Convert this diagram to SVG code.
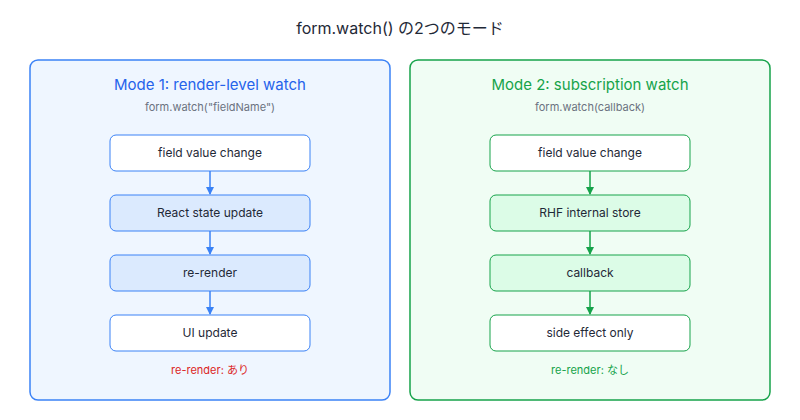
<svg xmlns="http://www.w3.org/2000/svg" width="800" height="420" viewBox="0 0 800 420">
<style>
text{font-family:Inter,"Noto Sans","Noto Sans CJK JP",sans-serif;text-anchor:middle}
.t{font-size:16px;fill:#1f2937}
.h{font-size:15px}
.s{font-size:11px;fill:#6b7280}
.n{font-size:12px;fill:#1f2937}
.f{font-size:11px}
.bb{stroke:#3b82f6;stroke-width:1}
.gb{stroke:#16a34a;stroke-width:1}
</style>
<defs>
<marker id="ab" markerWidth="8" markerHeight="8" refX="7" refY="4" orient="auto" markerUnits="userSpaceOnUse"><path d="M0,0 L8,4 L0,8z" fill="#3b82f6"/></marker>
<marker id="ag" markerWidth="8" markerHeight="8" refX="7" refY="4" orient="auto" markerUnits="userSpaceOnUse"><path d="M0,0 L8,4 L0,8z" fill="#16a34a"/></marker>
</defs>
<rect width="800" height="420" fill="#fff"/>
<text class="t" x="400" y="34">form.watch() の2つのモード</text>
<g id="mode1">
<rect x="30" y="60" width="360" height="340" rx="8" fill="#eff6ff" stroke="#3b82f6" stroke-width="1.5"/>
<text class="h" x="210" y="90" fill="#2563eb">Mode 1: render-level watch</text>
<text class="s" x="210" y="111">form.watch("fieldName")</text>
<text class="f" x="210" y="374" fill="#dc2626">re-render: あり</text>
</g>
<g id="m1n1"><rect class="bb" x="110" y="135" width="200" height="36" rx="6" fill="#fff"/><text class="n" x="210" y="157">field value change</text></g>
<g id="m1n2"><rect class="bb" x="110" y="195" width="200" height="36" rx="6" fill="#dbeafe"/><text class="n" x="210" y="217">React state update</text></g>
<g id="m1n3"><rect class="bb" x="110" y="255" width="200" height="36" rx="6" fill="#dbeafe"/><text class="n" x="210" y="277">re-render</text></g>
<g id="m1n4"><rect class="bb" x="110" y="315" width="200" height="36" rx="6" fill="#fff"/><text class="n" x="210" y="337">UI update</text></g>
<g id="mode2">
<rect x="410" y="60" width="360" height="340" rx="8" fill="#f0fdf4" stroke="#16a34a" stroke-width="1.5"/>
<text class="h" x="590" y="90" fill="#16a34a">Mode 2: subscription watch</text>
<text class="s" x="590" y="111">form.watch(callback)</text>
<text class="f" x="590" y="374" fill="#16a34a">re-render: なし</text>
</g>
<g id="m2n1"><rect class="gb" x="490" y="135" width="200" height="36" rx="6" fill="#fff"/><text class="n" x="590" y="157">field value change</text></g>
<g id="m2n2"><rect class="gb" x="490" y="195" width="200" height="36" rx="6" fill="#dcfce7"/><text class="n" x="590" y="217">RHF internal store</text></g>
<g id="m2n3"><rect class="gb" x="490" y="255" width="200" height="36" rx="6" fill="#dcfce7"/><text class="n" x="590" y="277">callback</text></g>
<g id="m2n4"><rect class="gb" x="490" y="315" width="200" height="36" rx="6" fill="#fff"/><text class="n" x="590" y="337">side effect only</text></g>
<g id="connectors" stroke-width="1.5">
<line x1="210" y1="171" x2="210" y2="194" stroke="#3b82f6" marker-end="url(#ab)"/>
<line x1="210" y1="231" x2="210" y2="254" stroke="#3b82f6" marker-end="url(#ab)"/>
<line x1="210" y1="291" x2="210" y2="314" stroke="#3b82f6" marker-end="url(#ab)"/>
<line x1="590" y1="171" x2="590" y2="194" stroke="#16a34a" marker-end="url(#ag)"/>
<line x1="590" y1="231" x2="590" y2="254" stroke="#16a34a" marker-end="url(#ag)"/>
<line x1="590" y1="291" x2="590" y2="314" stroke="#16a34a" marker-end="url(#ag)"/>
</g>
</svg>
